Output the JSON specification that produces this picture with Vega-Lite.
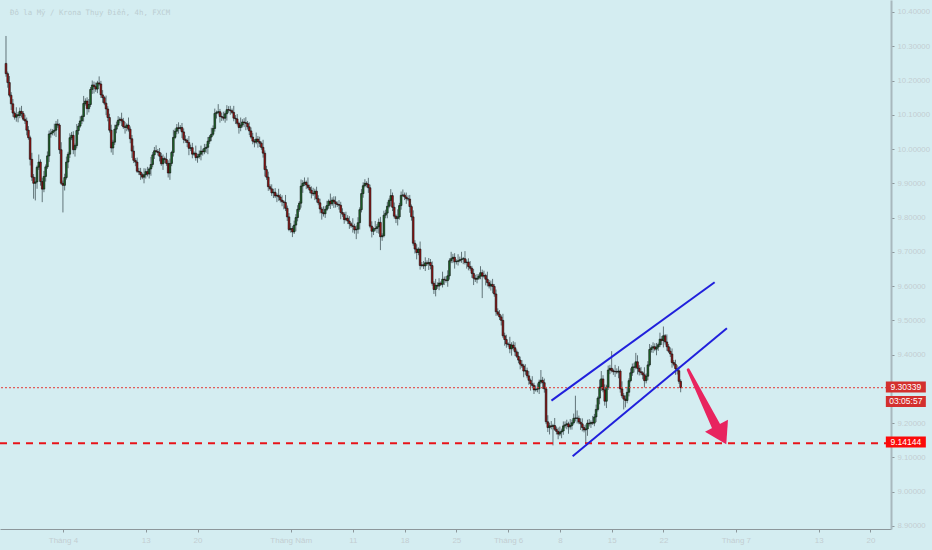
{
  "$schema": "https://vega.github.io/schema/vega-lite/v6.json",
  "width": 891,
  "height": 529,
  "autosize": {"type": "none"},
  "padding": {"left": 0, "top": 0, "right": 41, "bottom": 21},
  "background": "#d4edf1",
  "view": {"stroke": null},
  "config": {
    "font": "Liberation Sans",
    "axis": {"grid": false, "title": null}
  },
  "datasets": {
    "candles": [
      {"i":0,"o":10.25,"h":10.33,"l":10.211,"c":10.22},
      {"i":1,"o":10.22,"h":10.226,"l":10.179,"c":10.194},
      {"i":2,"o":10.194,"h":10.213,"l":10.151,"c":10.157},
      {"i":3,"o":10.157,"h":10.166,"l":10.114,"c":10.132},
      {"i":4,"o":10.132,"h":10.146,"l":10.094,"c":10.105},
      {"i":5,"o":10.105,"h":10.11,"l":10.086,"c":10.093},
      {"i":6,"o":10.093,"h":10.122,"l":10.08,"c":10.1},
      {"i":7,"o":10.1,"h":10.108,"l":10.078,"c":10.098},
      {"i":8,"o":10.098,"h":10.121,"l":10.09,"c":10.11},
      {"i":9,"o":10.11,"h":10.126,"l":10.092,"c":10.104},
      {"i":10,"o":10.104,"h":10.111,"l":10.082,"c":10.087},
      {"i":11,"o":10.087,"h":10.1,"l":10.073,"c":10.082},
      {"i":12,"o":10.082,"h":10.092,"l":10.04,"c":10.055},
      {"i":13,"o":10.055,"h":10.067,"l":10.027,"c":10.033},
      {"i":14,"o":10.033,"h":10.039,"l":9.952,"c":9.97},
      {"i":15,"o":9.97,"h":9.989,"l":9.907,"c":9.918},
      {"i":16,"o":9.918,"h":9.927,"l":9.855,"c":9.9},
      {"i":17,"o":9.9,"h":9.918,"l":9.85,"c":9.904},
      {"i":18,"o":9.904,"h":9.952,"l":9.884,"c":9.947},
      {"i":19,"o":9.947,"h":9.984,"l":9.939,"c":9.962},
      {"i":20,"o":9.962,"h":9.97,"l":9.893,"c":9.905},
      {"i":21,"o":9.905,"h":9.916,"l":9.845,"c":9.883},
      {"i":22,"o":9.883,"h":9.936,"l":9.874,"c":9.92},
      {"i":23,"o":9.92,"h":9.955,"l":9.905,"c":9.948},
      {"i":24,"o":9.948,"h":9.993,"l":9.942,"c":9.98},
      {"i":25,"o":9.98,"h":10.054,"l":9.962,"c":10.044},
      {"i":26,"o":10.044,"h":10.059,"l":10.033,"c":10.047},
      {"i":27,"o":10.047,"h":10.058,"l":10.04,"c":10.052},
      {"i":28,"o":10.052,"h":10.074,"l":10.039,"c":10.055},
      {"i":29,"o":10.055,"h":10.082,"l":10.035,"c":10.073},
      {"i":30,"o":10.073,"h":10.087,"l":10.062,"c":10.07},
      {"i":31,"o":10.07,"h":10.075,"l":9.986,"c":9.998},
      {"i":32,"o":9.998,"h":10.02,"l":9.895,"c":9.9},
      {"i":33,"o":9.9,"h":9.908,"l":9.815,"c":9.894},
      {"i":34,"o":9.894,"h":9.928,"l":9.879,"c":9.917},
      {"i":35,"o":9.917,"h":9.978,"l":9.911,"c":9.962},
      {"i":36,"o":9.962,"h":9.992,"l":9.944,"c":9.985},
      {"i":37,"o":9.985,"h":10.046,"l":9.974,"c":10.033},
      {"i":38,"o":10.033,"h":10.05,"l":10.026,"c":10.04},
      {"i":39,"o":10.04,"h":10.052,"l":9.985,"c":9.998},
      {"i":40,"o":9.998,"h":10.016,"l":9.978,"c":10.01},
      {"i":41,"o":10.01,"h":10.073,"l":10.002,"c":10.054},
      {"i":42,"o":10.054,"h":10.076,"l":10.042,"c":10.067},
      {"i":43,"o":10.067,"h":10.096,"l":10.062,"c":10.082},
      {"i":44,"o":10.082,"h":10.1,"l":10.073,"c":10.095},
      {"i":45,"o":10.095,"h":10.155,"l":10.08,"c":10.133},
      {"i":46,"o":10.133,"h":10.148,"l":10.127,"c":10.14},
      {"i":47,"o":10.14,"h":10.151,"l":10.1,"c":10.118},
      {"i":48,"o":10.118,"h":10.146,"l":10.107,"c":10.13},
      {"i":49,"o":10.13,"h":10.181,"l":10.123,"c":10.174},
      {"i":50,"o":10.174,"h":10.2,"l":10.161,"c":10.187},
      {"i":51,"o":10.187,"h":10.197,"l":10.162,"c":10.182},
      {"i":52,"o":10.182,"h":10.194,"l":10.167,"c":10.175},
      {"i":53,"o":10.175,"h":10.199,"l":10.163,"c":10.193},
      {"i":54,"o":10.193,"h":10.212,"l":10.185,"c":10.19},
      {"i":55,"o":10.19,"h":10.199,"l":10.149,"c":10.158},
      {"i":56,"o":10.158,"h":10.172,"l":10.135,"c":10.15},
      {"i":57,"o":10.15,"h":10.155,"l":10.128,"c":10.134},
      {"i":58,"o":10.134,"h":10.156,"l":10.099,"c":10.117},
      {"i":59,"o":10.117,"h":10.125,"l":10.081,"c":10.092},
      {"i":60,"o":10.092,"h":10.103,"l":10.048,"c":10.055},
      {"i":61,"o":10.055,"h":10.071,"l":9.99,"c":10.003},
      {"i":62,"o":10.003,"h":10.027,"l":9.983,"c":10.02},
      {"i":63,"o":10.02,"h":10.071,"l":10.012,"c":10.058},
      {"i":64,"o":10.058,"h":10.08,"l":10.046,"c":10.07},
      {"i":65,"o":10.07,"h":10.096,"l":10.065,"c":10.084},
      {"i":66,"o":10.084,"h":10.093,"l":10.075,"c":10.087},
      {"i":67,"o":10.087,"h":10.106,"l":10.067,"c":10.082},
      {"i":68,"o":10.082,"h":10.091,"l":10.059,"c":10.065},
      {"i":69,"o":10.065,"h":10.079,"l":10.045,"c":10.063},
      {"i":70,"o":10.063,"h":10.075,"l":10.052,"c":10.07},
      {"i":71,"o":10.07,"h":10.092,"l":10.051,"c":10.058},
      {"i":72,"o":10.058,"h":10.066,"l":10.017,"c":10.03},
      {"i":73,"o":10.03,"h":10.041,"l":9.974,"c":9.994},
      {"i":74,"o":9.994,"h":10.01,"l":9.959,"c":9.967},
      {"i":75,"o":9.967,"h":9.974,"l":9.95,"c":9.962},
      {"i":76,"o":9.962,"h":9.975,"l":9.93,"c":9.935},
      {"i":77,"o":9.935,"h":9.945,"l":9.924,"c":9.933},
      {"i":78,"o":9.933,"h":9.945,"l":9.91,"c":9.925},
      {"i":79,"o":9.925,"h":9.931,"l":9.912,"c":9.918},
      {"i":80,"o":9.918,"h":9.944,"l":9.9,"c":9.925},
      {"i":81,"o":9.925,"h":9.943,"l":9.914,"c":9.934},
      {"i":82,"o":9.934,"h":9.948,"l":9.92,"c":9.927},
      {"i":83,"o":9.927,"h":9.947,"l":9.914,"c":9.942},
      {"i":84,"o":9.942,"h":9.977,"l":9.922,"c":9.955},
      {"i":85,"o":9.955,"h":9.991,"l":9.947,"c":9.983},
      {"i":86,"o":9.983,"h":10.006,"l":9.971,"c":9.995},
      {"i":87,"o":9.995,"h":10.011,"l":9.988,"c":9.993},
      {"i":88,"o":9.993,"h":10.0,"l":9.981,"c":9.99},
      {"i":89,"o":9.99,"h":10.003,"l":9.964,"c":9.979},
      {"i":90,"o":9.979,"h":9.989,"l":9.951,"c":9.957},
      {"i":91,"o":9.957,"h":9.984,"l":9.939,"c":9.972},
      {"i":92,"o":9.972,"h":9.978,"l":9.959,"c":9.97},
      {"i":93,"o":9.97,"h":9.989,"l":9.951,"c":9.958},
      {"i":94,"o":9.958,"h":9.967,"l":9.917,"c":9.93},
      {"i":95,"o":9.93,"h":9.972,"l":9.91,"c":9.958},
      {"i":96,"o":9.958,"h":9.995,"l":9.95,"c":9.99},
      {"i":97,"o":9.99,"h":10.056,"l":9.978,"c":10.034},
      {"i":98,"o":10.034,"h":10.06,"l":10.029,"c":10.052},
      {"i":99,"o":10.052,"h":10.073,"l":10.043,"c":10.062},
      {"i":100,"o":10.062,"h":10.078,"l":10.045,"c":10.06},
      {"i":101,"o":10.06,"h":10.07,"l":10.054,"c":10.063},
      {"i":102,"o":10.063,"h":10.076,"l":10.032,"c":10.05},
      {"i":103,"o":10.05,"h":10.06,"l":10.017,"c":10.028},
      {"i":104,"o":10.028,"h":10.04,"l":10.018,"c":10.025},
      {"i":105,"o":10.025,"h":10.031,"l":10.006,"c":10.019},
      {"i":106,"o":10.019,"h":10.038,"l":9.982,"c":10.002},
      {"i":107,"o":10.002,"h":10.013,"l":9.994,"c":10.004},
      {"i":108,"o":10.004,"h":10.018,"l":9.973,"c":9.985},
      {"i":109,"o":9.985,"h":9.993,"l":9.98,"c":9.988},
      {"i":110,"o":9.988,"h":10.01,"l":9.966,"c":9.975},
      {"i":111,"o":9.975,"h":9.986,"l":9.96,"c":9.978},
      {"i":112,"o":9.978,"h":9.996,"l":9.972,"c":9.985},
      {"i":113,"o":9.985,"h":10.01,"l":9.967,"c":9.994},
      {"i":114,"o":9.994,"h":10.001,"l":9.981,"c":9.992},
      {"i":115,"o":9.992,"h":10.015,"l":9.985,"c":10.002},
      {"i":116,"o":10.002,"h":10.015,"l":9.989,"c":10.005},
      {"i":117,"o":10.005,"h":10.035,"l":9.985,"c":10.023},
      {"i":118,"o":10.023,"h":10.041,"l":10.015,"c":10.035},
      {"i":119,"o":10.035,"h":10.062,"l":10.023,"c":10.043},
      {"i":120,"o":10.043,"h":10.069,"l":10.038,"c":10.06},
      {"i":121,"o":10.06,"h":10.118,"l":10.051,"c":10.104},
      {"i":122,"o":10.104,"h":10.112,"l":10.089,"c":10.107},
      {"i":123,"o":10.107,"h":10.131,"l":10.101,"c":10.109},
      {"i":124,"o":10.109,"h":10.117,"l":10.077,"c":10.095},
      {"i":125,"o":10.095,"h":10.106,"l":10.082,"c":10.093},
      {"i":126,"o":10.093,"h":10.109,"l":10.083,"c":10.09},
      {"i":127,"o":10.09,"h":10.11,"l":10.077,"c":10.103},
      {"i":128,"o":10.103,"h":10.128,"l":10.083,"c":10.115},
      {"i":129,"o":10.115,"h":10.125,"l":10.106,"c":10.114},
      {"i":130,"o":10.114,"h":10.126,"l":10.1,"c":10.112},
      {"i":131,"o":10.112,"h":10.118,"l":10.102,"c":10.107},
      {"i":132,"o":10.107,"h":10.126,"l":10.081,"c":10.09},
      {"i":133,"o":10.09,"h":10.099,"l":10.073,"c":10.088},
      {"i":134,"o":10.088,"h":10.102,"l":10.069,"c":10.075},
      {"i":135,"o":10.075,"h":10.08,"l":10.045,"c":10.063},
      {"i":136,"o":10.063,"h":10.092,"l":10.052,"c":10.07},
      {"i":137,"o":10.07,"h":10.087,"l":10.063,"c":10.079},
      {"i":138,"o":10.079,"h":10.09,"l":10.064,"c":10.077},
      {"i":139,"o":10.077,"h":10.093,"l":10.055,"c":10.075},
      {"i":140,"o":10.075,"h":10.082,"l":10.057,"c":10.065},
      {"i":141,"o":10.065,"h":10.078,"l":10.041,"c":10.053},
      {"i":142,"o":10.053,"h":10.063,"l":10.03,"c":10.035},
      {"i":143,"o":10.035,"h":10.047,"l":10.014,"c":10.023},
      {"i":144,"o":10.023,"h":10.029,"l":10.005,"c":10.02},
      {"i":145,"o":10.02,"h":10.048,"l":10.014,"c":10.029},
      {"i":146,"o":10.029,"h":10.038,"l":10.004,"c":10.022},
      {"i":147,"o":10.022,"h":10.036,"l":10.006,"c":10.017},
      {"i":148,"o":10.017,"h":10.022,"l":9.998,"c":10.005},
      {"i":149,"o":10.005,"h":10.027,"l":9.975,"c":9.988},
      {"i":150,"o":9.988,"h":9.996,"l":9.92,"c":9.94},
      {"i":151,"o":9.94,"h":9.951,"l":9.91,"c":9.918},
      {"i":152,"o":9.918,"h":9.934,"l":9.878,"c":9.89},
      {"i":153,"o":9.89,"h":9.897,"l":9.879,"c":9.884},
      {"i":154,"o":9.884,"h":9.897,"l":9.863,"c":9.872},
      {"i":155,"o":9.872,"h":9.884,"l":9.857,"c":9.874},
      {"i":156,"o":9.874,"h":9.886,"l":9.857,"c":9.863},
      {"i":157,"o":9.863,"h":9.871,"l":9.845,"c":9.865},
      {"i":158,"o":9.865,"h":9.884,"l":9.849,"c":9.86},
      {"i":159,"o":9.86,"h":9.869,"l":9.844,"c":9.851},
      {"i":160,"o":9.851,"h":9.865,"l":9.833,"c":9.846},
      {"i":161,"o":9.846,"h":9.851,"l":9.824,"c":9.844},
      {"i":162,"o":9.844,"h":9.866,"l":9.819,"c":9.827},
      {"i":163,"o":9.827,"h":9.835,"l":9.79,"c":9.802},
      {"i":164,"o":9.802,"h":9.813,"l":9.76,"c":9.765},
      {"i":165,"o":9.765,"h":9.784,"l":9.756,"c":9.768},
      {"i":166,"o":9.768,"h":9.775,"l":9.743,"c":9.758},
      {"i":167,"o":9.758,"h":9.791,"l":9.752,"c":9.778},
      {"i":168,"o":9.778,"h":9.81,"l":9.76,"c":9.8},
      {"i":169,"o":9.8,"h":9.836,"l":9.789,"c":9.824},
      {"i":170,"o":9.824,"h":9.848,"l":9.817,"c":9.842},
      {"i":171,"o":9.842,"h":9.911,"l":9.829,"c":9.892},
      {"i":172,"o":9.892,"h":9.909,"l":9.872,"c":9.9},
      {"i":173,"o":9.9,"h":9.917,"l":9.892,"c":9.903},
      {"i":174,"o":9.903,"h":9.908,"l":9.883,"c":9.895},
      {"i":175,"o":9.895,"h":9.917,"l":9.883,"c":9.888},
      {"i":176,"o":9.888,"h":9.896,"l":9.871,"c":9.88},
      {"i":177,"o":9.88,"h":9.891,"l":9.856,"c":9.871},
      {"i":178,"o":9.871,"h":9.887,"l":9.863,"c":9.869},
      {"i":179,"o":9.869,"h":9.884,"l":9.851,"c":9.877},
      {"i":180,"o":9.877,"h":9.89,"l":9.844,"c":9.855},
      {"i":181,"o":9.855,"h":9.865,"l":9.836,"c":9.843},
      {"i":182,"o":9.843,"h":9.855,"l":9.812,"c":9.825},
      {"i":183,"o":9.825,"h":9.831,"l":9.794,"c":9.814},
      {"i":184,"o":9.814,"h":9.833,"l":9.803,"c":9.811},
      {"i":185,"o":9.811,"h":9.833,"l":9.799,"c":9.824},
      {"i":186,"o":9.824,"h":9.849,"l":9.819,"c":9.835},
      {"i":187,"o":9.835,"h":9.853,"l":9.826,"c":9.848},
      {"i":188,"o":9.848,"h":9.87,"l":9.825,"c":9.84},
      {"i":189,"o":9.84,"h":9.859,"l":9.834,"c":9.851},
      {"i":190,"o":9.851,"h":9.862,"l":9.828,"c":9.846},
      {"i":191,"o":9.846,"h":9.862,"l":9.829,"c":9.84},
      {"i":192,"o":9.84,"h":9.847,"l":9.831,"c":9.838},
      {"i":193,"o":9.838,"h":9.851,"l":9.823,"c":9.836},
      {"i":194,"o":9.836,"h":9.846,"l":9.795,"c":9.815},
      {"i":195,"o":9.815,"h":9.827,"l":9.802,"c":9.81},
      {"i":196,"o":9.81,"h":9.816,"l":9.782,"c":9.794},
      {"i":197,"o":9.794,"h":9.817,"l":9.789,"c":9.798},
      {"i":198,"o":9.798,"h":9.807,"l":9.781,"c":9.79},
      {"i":199,"o":9.79,"h":9.804,"l":9.767,"c":9.782},
      {"i":200,"o":9.782,"h":9.787,"l":9.77,"c":9.776},
      {"i":201,"o":9.776,"h":9.798,"l":9.756,"c":9.774},
      {"i":202,"o":9.774,"h":9.782,"l":9.753,"c":9.764},
      {"i":203,"o":9.764,"h":9.777,"l":9.737,"c":9.766},
      {"i":204,"o":9.766,"h":9.801,"l":9.753,"c":9.785},
      {"i":205,"o":9.785,"h":9.83,"l":9.765,"c":9.823},
      {"i":206,"o":9.823,"h":9.883,"l":9.815,"c":9.87},
      {"i":207,"o":9.87,"h":9.903,"l":9.858,"c":9.893},
      {"i":208,"o":9.893,"h":9.912,"l":9.888,"c":9.9},
      {"i":209,"o":9.9,"h":9.906,"l":9.888,"c":9.897},
      {"i":210,"o":9.897,"h":9.916,"l":9.872,"c":9.887},
      {"i":211,"o":9.887,"h":9.896,"l":9.769,"c":9.775},
      {"i":212,"o":9.775,"h":9.789,"l":9.742,"c":9.76},
      {"i":213,"o":9.76,"h":9.772,"l":9.749,"c":9.767},
      {"i":214,"o":9.767,"h":9.79,"l":9.76,"c":9.768},
      {"i":215,"o":9.768,"h":9.781,"l":9.755,"c":9.773},
      {"i":216,"o":9.773,"h":9.797,"l":9.753,"c":9.786},
      {"i":217,"o":9.786,"h":9.802,"l":9.705,"c":9.744},
      {"i":218,"o":9.744,"h":9.754,"l":9.732,"c":9.747},
      {"i":219,"o":9.747,"h":9.82,"l":9.742,"c":9.807},
      {"i":220,"o":9.807,"h":9.823,"l":9.798,"c":9.813},
      {"i":221,"o":9.813,"h":9.845,"l":9.798,"c":9.833},
      {"i":222,"o":9.833,"h":9.856,"l":9.827,"c":9.85},
      {"i":223,"o":9.85,"h":9.883,"l":9.832,"c":9.864},
      {"i":224,"o":9.864,"h":9.873,"l":9.819,"c":9.83},
      {"i":225,"o":9.83,"h":9.844,"l":9.797,"c":9.804},
      {"i":226,"o":9.804,"h":9.809,"l":9.784,"c":9.797},
      {"i":227,"o":9.797,"h":9.824,"l":9.777,"c":9.802},
      {"i":228,"o":9.802,"h":9.843,"l":9.794,"c":9.835},
      {"i":229,"o":9.835,"h":9.876,"l":9.823,"c":9.865},
      {"i":230,"o":9.865,"h":9.882,"l":9.86,"c":9.866},
      {"i":231,"o":9.866,"h":9.873,"l":9.851,"c":9.86},
      {"i":232,"o":9.86,"h":9.873,"l":9.84,"c":9.855},
      {"i":233,"o":9.855,"h":9.865,"l":9.848,"c":9.854},
      {"i":234,"o":9.854,"h":9.866,"l":9.814,"c":9.832},
      {"i":235,"o":9.832,"h":9.838,"l":9.791,"c":9.802},
      {"i":236,"o":9.802,"h":9.821,"l":9.718,"c":9.725},
      {"i":237,"o":9.725,"h":9.734,"l":9.695,"c":9.708},
      {"i":238,"o":9.708,"h":9.722,"l":9.678,"c":9.698},
      {"i":239,"o":9.698,"h":9.713,"l":9.69,"c":9.708},
      {"i":240,"o":9.708,"h":9.73,"l":9.648,"c":9.66},
      {"i":241,"o":9.66,"h":9.67,"l":9.655,"c":9.662},
      {"i":242,"o":9.662,"h":9.673,"l":9.65,"c":9.659},
      {"i":243,"o":9.659,"h":9.684,"l":9.644,"c":9.668},
      {"i":244,"o":9.668,"h":9.675,"l":9.659,"c":9.665},
      {"i":245,"o":9.665,"h":9.682,"l":9.647,"c":9.669},
      {"i":246,"o":9.669,"h":9.679,"l":9.649,"c":9.66},
      {"i":247,"o":9.66,"h":9.672,"l":9.601,"c":9.608},
      {"i":248,"o":9.608,"h":9.614,"l":9.577,"c":9.59},
      {"i":249,"o":9.59,"h":9.621,"l":9.57,"c":9.602},
      {"i":250,"o":9.602,"h":9.611,"l":9.592,"c":9.6},
      {"i":251,"o":9.6,"h":9.623,"l":9.588,"c":9.609},
      {"i":252,"o":9.609,"h":9.614,"l":9.6,"c":9.605},
      {"i":253,"o":9.605,"h":9.642,"l":9.596,"c":9.62},
      {"i":254,"o":9.62,"h":9.628,"l":9.603,"c":9.618},
      {"i":255,"o":9.618,"h":9.629,"l":9.61,"c":9.616},
      {"i":256,"o":9.616,"h":9.646,"l":9.598,"c":9.63},
      {"i":257,"o":9.63,"h":9.681,"l":9.619,"c":9.674},
      {"i":258,"o":9.674,"h":9.7,"l":9.667,"c":9.68},
      {"i":259,"o":9.68,"h":9.694,"l":9.667,"c":9.684},
      {"i":260,"o":9.684,"h":9.696,"l":9.651,"c":9.671},
      {"i":261,"o":9.671,"h":9.678,"l":9.663,"c":9.672},
      {"i":262,"o":9.672,"h":9.693,"l":9.66,"c":9.674},
      {"i":263,"o":9.674,"h":9.686,"l":9.669,"c":9.677},
      {"i":264,"o":9.677,"h":9.7,"l":9.668,"c":9.679},
      {"i":265,"o":9.679,"h":9.685,"l":9.664,"c":9.68},
      {"i":266,"o":9.68,"h":9.702,"l":9.663,"c":9.669},
      {"i":267,"o":9.669,"h":9.678,"l":9.651,"c":9.67},
      {"i":268,"o":9.67,"h":9.681,"l":9.646,"c":9.657},
      {"i":269,"o":9.657,"h":9.673,"l":9.645,"c":9.652},
      {"i":270,"o":9.652,"h":9.659,"l":9.624,"c":9.637},
      {"i":271,"o":9.637,"h":9.65,"l":9.603,"c":9.623},
      {"i":272,"o":9.623,"h":9.633,"l":9.612,"c":9.62},
      {"i":273,"o":9.62,"h":9.635,"l":9.608,"c":9.623},
      {"i":274,"o":9.623,"h":9.635,"l":9.618,"c":9.629},
      {"i":275,"o":9.629,"h":9.658,"l":9.62,"c":9.639},
      {"i":276,"o":9.639,"h":9.648,"l":9.565,"c":9.629},
      {"i":277,"o":9.629,"h":9.645,"l":9.623,"c":9.631},
      {"i":278,"o":9.631,"h":9.636,"l":9.602,"c":9.62},
      {"i":279,"o":9.62,"h":9.642,"l":9.599,"c":9.61},
      {"i":280,"o":9.61,"h":9.618,"l":9.593,"c":9.6},
      {"i":281,"o":9.6,"h":9.616,"l":9.587,"c":9.605},
      {"i":282,"o":9.605,"h":9.621,"l":9.579,"c":9.599},
      {"i":283,"o":9.599,"h":9.606,"l":9.569,"c":9.577},
      {"i":284,"o":9.577,"h":9.59,"l":9.513,"c":9.525},
      {"i":285,"o":9.525,"h":9.535,"l":9.513,"c":9.518},
      {"i":286,"o":9.518,"h":9.53,"l":9.501,"c":9.51},
      {"i":287,"o":9.51,"h":9.516,"l":9.485,"c":9.5},
      {"i":288,"o":9.5,"h":9.519,"l":9.449,"c":9.455},
      {"i":289,"o":9.455,"h":9.464,"l":9.426,"c":9.444},
      {"i":290,"o":9.444,"h":9.458,"l":9.42,"c":9.431},
      {"i":291,"o":9.431,"h":9.436,"l":9.423,"c":9.43},
      {"i":292,"o":9.43,"h":9.452,"l":9.404,"c":9.417},
      {"i":293,"o":9.417,"h":9.436,"l":9.397,"c":9.428},
      {"i":294,"o":9.428,"h":9.439,"l":9.412,"c":9.42},
      {"i":295,"o":9.42,"h":9.436,"l":9.396,"c":9.408},
      {"i":296,"o":9.408,"h":9.415,"l":9.39,"c":9.395},
      {"i":297,"o":9.395,"h":9.408,"l":9.375,"c":9.384},
      {"i":298,"o":9.384,"h":9.394,"l":9.357,"c":9.372},
      {"i":299,"o":9.372,"h":9.384,"l":9.361,"c":9.367},
      {"i":300,"o":9.367,"h":9.373,"l":9.334,"c":9.352},
      {"i":301,"o":9.352,"h":9.372,"l":9.341,"c":9.353},
      {"i":302,"o":9.353,"h":9.362,"l":9.331,"c":9.338},
      {"i":303,"o":9.338,"h":9.352,"l":9.312,"c":9.325},
      {"i":304,"o":9.325,"h":9.33,"l":9.295,"c":9.315},
      {"i":305,"o":9.315,"h":9.337,"l":9.302,"c":9.31},
      {"i":306,"o":9.31,"h":9.318,"l":9.285,"c":9.297},
      {"i":307,"o":9.297,"h":9.31,"l":9.292,"c":9.299},
      {"i":308,"o":9.299,"h":9.316,"l":9.29,"c":9.3},
      {"i":309,"o":9.3,"h":9.327,"l":9.285,"c":9.32},
      {"i":310,"o":9.32,"h":9.355,"l":9.314,"c":9.325},
      {"i":311,"o":9.325,"h":9.335,"l":9.3,"c":9.318},
      {"i":312,"o":9.318,"h":9.33,"l":9.289,"c":9.3},
      {"i":313,"o":9.3,"h":9.306,"l":9.197,"c":9.204},
      {"i":314,"o":9.204,"h":9.223,"l":9.174,"c":9.187},
      {"i":315,"o":9.187,"h":9.201,"l":9.167,"c":9.192},
      {"i":316,"o":9.192,"h":9.206,"l":9.182,"c":9.19},
      {"i":317,"o":9.19,"h":9.198,"l":9.135,"c":9.193},
      {"i":318,"o":9.193,"h":9.215,"l":9.177,"c":9.182},
      {"i":319,"o":9.182,"h":9.19,"l":9.167,"c":9.176},
      {"i":320,"o":9.176,"h":9.187,"l":9.153,"c":9.168},
      {"i":321,"o":9.168,"h":9.19,"l":9.162,"c":9.174},
      {"i":322,"o":9.174,"h":9.184,"l":9.156,"c":9.177},
      {"i":323,"o":9.177,"h":9.205,"l":9.166,"c":9.192},
      {"i":324,"o":9.192,"h":9.205,"l":9.185,"c":9.195},
      {"i":325,"o":9.195,"h":9.21,"l":9.182,"c":9.198},
      {"i":326,"o":9.198,"h":9.204,"l":9.169,"c":9.189},
      {"i":327,"o":9.189,"h":9.212,"l":9.181,"c":9.193},
      {"i":328,"o":9.193,"h":9.21,"l":9.181,"c":9.201},
      {"i":329,"o":9.201,"h":9.228,"l":9.196,"c":9.214},
      {"i":330,"o":9.214,"h":9.28,"l":9.205,"c":9.215},
      {"i":331,"o":9.215,"h":9.237,"l":9.199,"c":9.214},
      {"i":332,"o":9.214,"h":9.222,"l":9.197,"c":9.203},
      {"i":333,"o":9.203,"h":9.214,"l":9.18,"c":9.198},
      {"i":334,"o":9.198,"h":9.214,"l":9.176,"c":9.187},
      {"i":335,"o":9.187,"h":9.194,"l":9.173,"c":9.18},
      {"i":336,"o":9.18,"h":9.196,"l":9.14,"c":9.183},
      {"i":337,"o":9.183,"h":9.21,"l":9.163,"c":9.2},
      {"i":338,"o":9.2,"h":9.212,"l":9.19,"c":9.198},
      {"i":339,"o":9.198,"h":9.208,"l":9.186,"c":9.202},
      {"i":340,"o":9.202,"h":9.221,"l":9.195,"c":9.2},
      {"i":341,"o":9.2,"h":9.227,"l":9.191,"c":9.218},
      {"i":342,"o":9.218,"h":9.254,"l":9.203,"c":9.24},
      {"i":343,"o":9.24,"h":9.278,"l":9.234,"c":9.273},
      {"i":344,"o":9.273,"h":9.327,"l":9.255,"c":9.305},
      {"i":345,"o":9.305,"h":9.352,"l":9.294,"c":9.329},
      {"i":346,"o":9.329,"h":9.34,"l":9.29,"c":9.297},
      {"i":347,"o":9.297,"h":9.313,"l":9.251,"c":9.264},
      {"i":348,"o":9.264,"h":9.312,"l":9.244,"c":9.305},
      {"i":349,"o":9.305,"h":9.368,"l":9.297,"c":9.355},
      {"i":350,"o":9.355,"h":9.37,"l":9.343,"c":9.36},
      {"i":351,"o":9.36,"h":9.41,"l":9.348,"c":9.353},
      {"i":352,"o":9.353,"h":9.359,"l":9.341,"c":9.35},
      {"i":353,"o":9.35,"h":9.37,"l":9.335,"c":9.351},
      {"i":354,"o":9.351,"h":9.36,"l":9.343,"c":9.349},
      {"i":355,"o":9.349,"h":9.366,"l":9.331,"c":9.352},
      {"i":356,"o":9.352,"h":9.357,"l":9.289,"c":9.3},
      {"i":357,"o":9.3,"h":9.322,"l":9.273,"c":9.28},
      {"i":358,"o":9.28,"h":9.288,"l":9.24,"c":9.27},
      {"i":359,"o":9.27,"h":9.281,"l":9.246,"c":9.266},
      {"i":360,"o":9.266,"h":9.306,"l":9.258,"c":9.29},
      {"i":361,"o":9.29,"h":9.331,"l":9.278,"c":9.324},
      {"i":362,"o":9.324,"h":9.36,"l":9.319,"c":9.347},
      {"i":363,"o":9.347,"h":9.374,"l":9.338,"c":9.364},
      {"i":364,"o":9.364,"h":9.376,"l":9.348,"c":9.363},
      {"i":365,"o":9.363,"h":9.405,"l":9.357,"c":9.379},
      {"i":366,"o":9.379,"h":9.398,"l":9.342,"c":9.36},
      {"i":367,"o":9.36,"h":9.369,"l":9.339,"c":9.35},
      {"i":368,"o":9.35,"h":9.364,"l":9.34,"c":9.347},
      {"i":369,"o":9.347,"h":9.352,"l":9.328,"c":9.341},
      {"i":370,"o":9.341,"h":9.363,"l":9.304,"c":9.324},
      {"i":371,"o":9.324,"h":9.345,"l":9.316,"c":9.337},
      {"i":372,"o":9.337,"h":9.381,"l":9.325,"c":9.37},
      {"i":373,"o":9.37,"h":9.431,"l":9.365,"c":9.415},
      {"i":374,"o":9.415,"h":9.427,"l":9.406,"c":9.42},
      {"i":375,"o":9.42,"h":9.436,"l":9.405,"c":9.423},
      {"i":376,"o":9.423,"h":9.433,"l":9.41,"c":9.416},
      {"i":377,"o":9.416,"h":9.434,"l":9.398,"c":9.422},
      {"i":378,"o":9.422,"h":9.435,"l":9.411,"c":9.429},
      {"i":379,"o":9.429,"h":9.464,"l":9.422,"c":9.445},
      {"i":380,"o":9.445,"h":9.454,"l":9.428,"c":9.441},
      {"i":381,"o":9.441,"h":9.482,"l":9.421,"c":9.455},
      {"i":382,"o":9.455,"h":9.46,"l":9.429,"c":9.437},
      {"i":383,"o":9.437,"h":9.459,"l":9.411,"c":9.423},
      {"i":384,"o":9.423,"h":9.431,"l":9.405,"c":9.41},
      {"i":385,"o":9.41,"h":9.421,"l":9.393,"c":9.402},
      {"i":386,"o":9.402,"h":9.418,"l":9.362,"c":9.377},
      {"i":387,"o":9.377,"h":9.384,"l":9.366,"c":9.372},
      {"i":388,"o":9.372,"h":9.385,"l":9.341,"c":9.359},
      {"i":389,"o":9.359,"h":9.369,"l":9.342,"c":9.353},
      {"i":390,"o":9.353,"h":9.365,"l":9.315,"c":9.322},
      {"i":391,"o":9.322,"h":9.328,"l":9.29,"c":9.3034}
    ],
    "channel": [
      {"line": "upper", "i": 316.1, "p": 9.2658},
      {"line": "upper", "i": 410.7, "p": 9.6112},
      {"line": "lower", "i": 328.4, "p": 9.1035},
      {"line": "lower", "i": 417.8, "p": 9.477}
    ],
    "arrow": [
      {"k": 0, "i": 395.4, "p": 9.3553},
      {"k": 1, "i": 411.4, "p": 9.1925}
    ]
  },
  "encoding": {
    "x": {
      "type": "quantitative",
      "scale": {"domain": [-0.573, 510], "nice": false, "zero": false},
      "axis": {
        "orient": "bottom",
        "values": [33, 81, 111, 165, 201, 231, 261, 291, 321, 351, 381, 423, 471, 501],
        "labelExpr": "datum.value == 33 ? 'Tháng 4' : datum.value == 81 ? '13' : datum.value == 111 ? '20' : datum.value == 165 ? 'Tháng Năm' : datum.value == 201 ? '11' : datum.value == 231 ? '18' : datum.value == 261 ? '25' : datum.value == 291 ? 'Tháng 6' : datum.value == 321 ? '8' : datum.value == 351 ? '15' : datum.value == 381 ? '22' : datum.value == 423 ? 'Tháng 7' : datum.value == 471 ? '13' : '20'",
        "domainColor": "#8c979b",
        "domainWidth": 1,
        "tickColor": "#8c979b",
        "tickSize": 3,
        "labelColor": "#c3cdd1",
        "labelFontSize": 8,
        "labelPadding": 4,
        "labelFlush": false,
        "labelOverlap": false
      }
    },
    "y": {
      "type": "quantitative",
      "scale": {"domain": [8.891, 10.435], "nice": false, "zero": false},
      "axis": {
        "orient": "right",
        "values": [8.9, 9.0, 9.1, 9.2, 9.4, 9.5, 9.6, 9.7, 9.8, 9.9, 10.0, 10.1, 10.2, 10.3, 10.4],
        "format": ".5f",
        "domainColor": "#a8b8bd",
        "domainWidth": 2,
        "tickColor": "#8c979b",
        "tickSize": 3,
        "labelColor": "#c3cdd1",
        "labelFontSize": 7.8,
        "labelPadding": 3,
        "labelFlush": false,
        "labelOverlap": false
      }
    }
  },
  "layer": [
    {
      "data": {"name": "candles"},
      "mark": {"type": "rule", "color": "#55676b", "strokeWidth": 1, "opacity": 0.9},
      "encoding": {"x": {"field": "i"}, "y": {"field": "l"}, "y2": {"field": "h"}}
    },
    {
      "data": {"name": "candles"},
      "mark": {"type": "bar", "width": 1.7, "stroke": "#0a0a0a", "strokeWidth": 0.6},
      "encoding": {
        "x": {"field": "i"},
        "y": {"field": "o"},
        "y2": {"field": "c"},
        "fill": {"condition": {"test": "datum.c >= datum.o", "value": "#1f6e2c"}, "value": "#a01515"}
      }
    },
    {
      "data": {"values": [{}]},
      "mark": {"type": "rule", "color": "#e53935", "strokeWidth": 1, "strokeDash": [2, 2]},
      "encoding": {"y": {"datum": 9.30339}, "x": null}
    },
    {
      "data": {"values": [{}]},
      "mark": {"type": "rule", "color": "#e8141a", "strokeWidth": 2, "strokeDash": [7, 6]},
      "encoding": {"y": {"datum": 9.14144}, "x": null}
    },
    {
      "data": {"name": "channel"},
      "mark": {"type": "line", "color": "#2020dc", "strokeWidth": 2},
      "encoding": {"x": {"field": "i"}, "y": {"field": "p"}, "detail": {"field": "line"}}
    },
    {
      "data": {"name": "arrow"},
      "mark": {"type": "trail", "color": "#e8245f"},
      "encoding": {
        "x": {"field": "i"},
        "y": {"field": "p"},
        "order": {"field": "k"},
        "size": {"field": "k", "type": "quantitative", "scale": {"domain": [0, 1], "range": [3, 9]}, "legend": null}
      }
    },
    {
      "data": {"values": [{}]},
      "mark": {"type": "point", "shape": "M -1 -0.8 L 1 -0.8 L 0 0.8 Z", "filled": true, "color": "#e8245f", "opacity": 1, "size": 676, "angle": 332, "strokeWidth": 0},
      "encoding": {"x": {"datum": 414.6}, "y": {"datum": 9.1655}}
    },
    {
      "data": {"values": [{}]},
      "mark": {"type": "text", "text": "Đô la Mỹ / Krona Thụy Điển, 4h, FXCM", "align": "left", "baseline": "middle", "font": "DejaVu Sans Mono", "fontSize": 7.4, "color": "#bccdd2"},
      "encoding": {"x": {"datum": 2.3}, "y": {"datum": 10.397}}
    },
    {
      "data": {"values": [{}]},
      "mark": {"type": "tick", "orient": "horizontal", "size": 40, "thickness": 11, "color": "#d3302e", "opacity": 1},
      "encoding": {"x": {"datum": 521.5}, "y": {"datum": 9.3051}}
    },
    {
      "data": {"values": [{}]},
      "mark": {"type": "tick", "orient": "horizontal", "size": 40, "thickness": 11, "color": "#d3302e", "opacity": 1},
      "encoding": {"x": {"datum": 521.5}, "y": {"datum": 9.2635}}
    },
    {
      "data": {"values": [{}]},
      "mark": {"type": "tick", "orient": "horizontal", "size": 40, "thickness": 11, "color": "#fb0a0a", "opacity": 1},
      "encoding": {"x": {"datum": 521.5}, "y": {"datum": 9.1446}}
    },
    {
      "data": {"values": [{"label": "9.30339", "p": 9.3051}, {"label": "03:05:57", "p": 9.2635}, {"label": "9.14144", "p": 9.1446}]},
      "mark": {"type": "text", "color": "#ffffff", "fontSize": 8.5, "align": "center", "baseline": "middle"},
      "encoding": {"x": {"datum": 521.5}, "y": {"field": "p"}, "text": {"field": "label"}}
    }
  ]
}
